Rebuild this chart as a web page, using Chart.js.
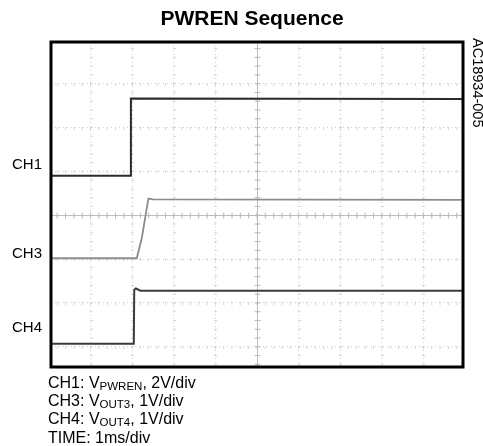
<!DOCTYPE html>
<html>
<head>
<meta charset="utf-8">
<script src="https://cdn.jsdelivr.net/npm/chart.js@4.4.1/dist/chart.umd.min.js"></script>
<style>
  html, body { margin: 0; padding: 0; background: #fff; }
</style>
</head>
<body>
<canvas id="scope" width="483" height="446"></canvas>
<script>
// x in ms (1ms/div), y in screen divisions (0 = centre line)
const xTicks = [-4, -3, -2, -1, 0, 1, 2, 3, 4];
const yTicks = [-3, -2, -1, 0, 1, 2, 3];

const ch1Time = [-4.95, -3.03, -3.03, 4.95];
const ch1Div  = [0.90, 0.90, 2.66, 2.65];

const ch3Time = [-4.95, -2.89, -2.77, -2.61, -2.5, 4.95];
const ch3Div  = [-0.98, -0.98, -0.53, 0.38, 0.36, 0.35];

const ch4Time = [-4.95, -2.96, -2.95, -2.91, -2.8, 4.95];
const ch4Div  = [-2.93, -2.93, -1.70, -1.67, -1.72, -1.72];

const chartTitle = 'PWREN Sequence';
const figureId = 'AC18934-005';
const chNames = ['CH1', 'CH3', 'CH4'];
// each footer line: [text, isSubscript]
const footerLines = [
  [['CH1: V', false], ['PWREN', true], [', 2V/div', false]],
  [['CH3: V', false], ['OUT3', true], [', 1V/div', false]],
  [['CH4: V', false], ['OUT4', true], [', 1V/div', false]],
  [['TIME: 1ms/div', false]]
];

const FONT = '"Liberation Sans", Arial, sans-serif';

function toPoints(xs, ys) {
  return xs.map((v, i) => ({ x: v, y: ys[i] }));
}

const scopeDecor = {
  id: 'scopeDecor',
  beforeDatasetsDraw(chart) {
    const { ctx, chartArea: a, scales: { x, y } } = chart;
    const cx = Math.round(x.getPixelForValue(0)) + 0.5;
    const cy = Math.round(y.getPixelForValue(0)) + 0.5;
    ctx.save();
    // small crosses along every grid line
    ctx.strokeStyle = '#d4d4d4';
    ctx.lineWidth = 1;
    ctx.beginPath();
    yTicks.forEach(t => {
      const py = Math.round(y.getPixelForValue(t)) + 0.5;
      for (let v = -5; v <= 5.001; v += 0.2) {
        const px = x.getPixelForValue(v);
        if (px < a.left + 2 || px > a.right - 2) continue;
        ctx.moveTo(px, py - 1.5); ctx.lineTo(px, py + 1.5);
      }
    });
    xTicks.forEach(t => {
      const px = Math.round(x.getPixelForValue(t)) + 0.5;
      for (let v = -4; v <= 4.001; v += 0.2) {
        const py = y.getPixelForValue(v);
        if (py < a.top + 2 || py > a.bottom - 2) continue;
        ctx.moveTo(px - 1.5, py); ctx.lineTo(px + 1.5, py);
      }
    });
    ctx.stroke();
    // centre axes, solid with ticks
    ctx.strokeStyle = '#bcbcbc';
    ctx.beginPath();
    ctx.moveTo(a.left, cy); ctx.lineTo(a.right, cy);
    ctx.moveTo(cx, a.top); ctx.lineTo(cx, a.bottom);
    for (let v = -5; v <= 5.001; v += 0.2) {
      const px = x.getPixelForValue(v);
      if (px < a.left || px > a.right) continue;
      ctx.moveTo(px, cy - 3); ctx.lineTo(px, cy + 3);
    }
    for (let v = -4; v <= 4.001; v += 0.2) {
      const py = y.getPixelForValue(v);
      if (py < a.top || py > a.bottom) continue;
      ctx.moveTo(cx - 3, py); ctx.lineTo(cx + 3, py);
    }
    ctx.stroke();
    ctx.restore();
  },
  afterDraw(chart) {
    const { ctx, chartArea: a, scales: { y } } = chart;
    ctx.save();
    // frame
    ctx.strokeStyle = '#000';
    ctx.lineWidth = 3;
    ctx.strokeRect(a.left, a.top, a.right - a.left, a.bottom - a.top);

    ctx.fillStyle = '#000';
    // title
    ctx.font = 'bold 21px ' + FONT;
    ctx.textAlign = 'center';
    ctx.textBaseline = 'alphabetic';
    ctx.fillText(chartTitle, 252, 25);

    // channel names on the left
    ctx.font = '15px ' + FONT;
    ctx.textAlign = 'right';
    ctx.textBaseline = 'middle';
    const nameLevels = [1.14, -0.88, -2.57];
    chNames.forEach((n, i) => ctx.fillText(n, a.left - 9, y.getPixelForValue(nameLevels[i])));

    // footer
    ctx.textAlign = 'left';
    ctx.textBaseline = 'alphabetic';
    footerLines.forEach((parts, i) => {
      let px = 48;
      const base = 388 + i * 18.2;
      parts.forEach(([txt, sub]) => {
        ctx.font = (sub ? '11.5px ' : '16px ') + FONT;
        ctx.fillText(txt, px, sub ? base + 2 : base);
        px += ctx.measureText(txt).width;
      });
    });

    // figure id, rotated
    ctx.translate(473, 38);
    ctx.rotate(Math.PI / 2);
    ctx.font = '14.5px ' + FONT;
    ctx.fillText(figureId, 0, 0);
    ctx.restore();
  }
};

const axisCommon = {
  type: 'linear',
  ticks: { display: false },
  border: { display: false, dash: [1, 3] },
  grid: {
    drawTicks: false,
    color: c => (c.tick && c.tick.value === 0) ? 'rgba(0,0,0,0)' : '#d0d0d0'
  }
};

new Chart(document.getElementById('scope'), {
  type: 'line',
  data: {
    datasets: [
      { label: 'CH1', data: toPoints(ch1Time, ch1Div), borderColor: '#2b2b2b', borderWidth: 2 },
      { label: 'CH3', data: toPoints(ch3Time, ch3Div), borderColor: '#8c8c8c', borderWidth: 1.8 },
      { label: 'CH4', data: toPoints(ch4Time, ch4Div), borderColor: '#3c3c3c', borderWidth: 2 }
    ]
  },
  options: {
    responsive: false,
    animation: false,
    layout: { padding: { left: 51, right: 20, top: 42, bottom: 79 } },
    elements: { point: { radius: 0 }, line: { tension: 0 } },
    plugins: {
      legend: { display: false },
      tooltip: { enabled: false },
      title: { display: false }
    },
    scales: {
      x: Object.assign({}, axisCommon, {
        min: -4.95, max: 4.95,
        afterBuildTicks: s => { s.ticks = xTicks.map(v => ({ value: v })); }
      }),
      y: Object.assign({}, axisCommon, {
        min: -3.46, max: 3.95,
        afterBuildTicks: s => { s.ticks = yTicks.map(v => ({ value: v })); }
      })
    }
  },
  plugins: [scopeDecor]
});
</script>
</body>
</html>
